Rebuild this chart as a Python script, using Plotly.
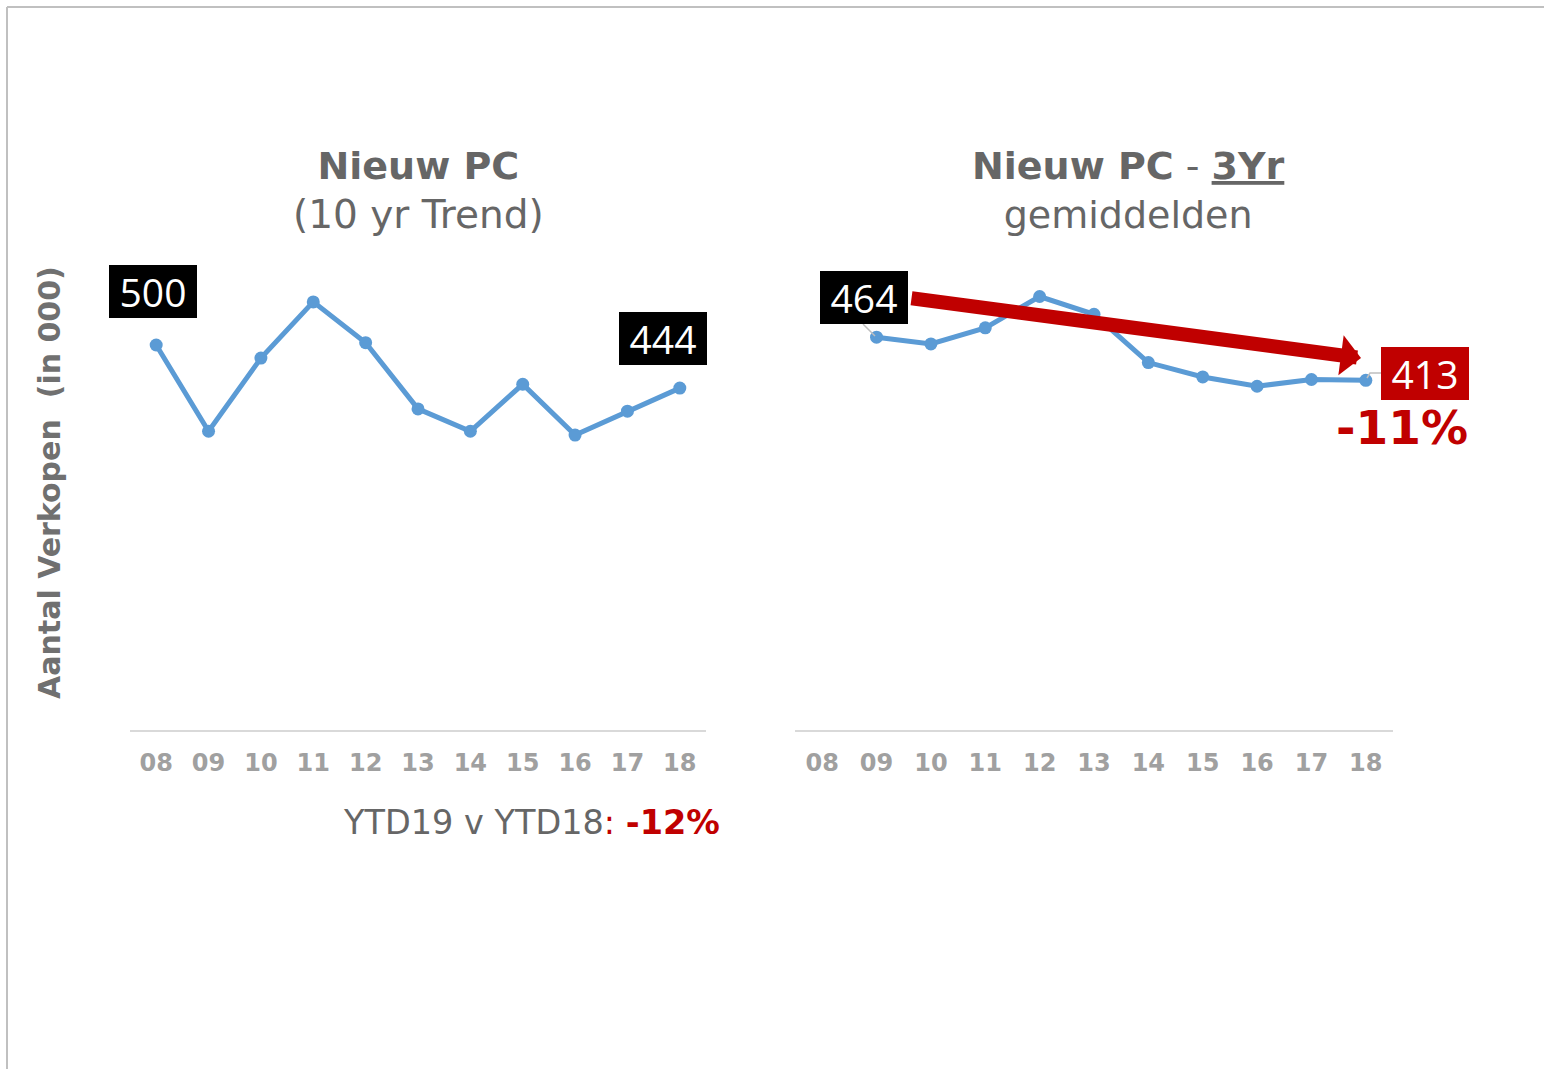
import plotly.graph_objects as go

# ---------------- data ----------------
years = ["08", "09", "10", "11", "12", "13", "14", "15", "16", "17", "18"]
sales = [500, 388, 483, 556, 503, 417, 388, 449, 383, 414, 444]
avg3 = [None, 464, 456, 475, 512, 491, 434, 417, 406, 414, 413]
first_label = "500"
last_label = "444"
avg_first_label = "464"
avg_last_label = "413"
avg_change = "-11%"
ytd_change = "-12%"

W, H = 1544, 1069
def X(px):
    return px / W
def Y(py):
    return 1 - py / H

BLUE = "#5b9bd5"
RED = "#c00000"
GREY_T = "#666666"
TICK = "#a0a0a0"
FONT = "DejaVu Sans"

fig = go.Figure()
fig.add_trace(go.Scatter(x=years, y=sales, mode="lines+markers",
                         line=dict(color=BLUE, width=5),
                         marker=dict(color=BLUE, size=13),
                         xaxis="x", yaxis="y", showlegend=False, hoverinfo="skip"))
fig.add_trace(go.Scatter(x=years, y=avg3, mode="lines+markers",
                         line=dict(color=BLUE, width=5),
                         marker=dict(color=BLUE, size=13),
                         xaxis="x2", yaxis="y2", showlegend=False, hoverinfo="skip",
                         connectgaps=False))

xcommon = dict(type="category", categoryorder="array", categoryarray=years,
               range=[-0.5, 10.5], showline=True, linecolor="#d9d9d9", linewidth=2,
               showgrid=False, zeroline=False, ticks="", ticklabelstandoff=10,
               tickfont=dict(family=FONT, size=24, color=TICK, weight="bold"),
               fixedrange=True)
ycommon = dict(range=[0, 600], visible=False, showgrid=False, zeroline=False, fixedrange=True)

fig.update_layout(
    width=W, height=H,
    margin=dict(l=0, r=0, t=0, b=0),
    paper_bgcolor="white", plot_bgcolor="white",
    font=dict(family=FONT, color=GREY_T),
    xaxis=dict(domain=[X(130), X(706)], anchor="y", **xcommon),
    yaxis=dict(domain=[Y(730), Y(268)], anchor="x", **ycommon),
    xaxis2=dict(domain=[X(795), X(1393)], anchor="y2", **xcommon),
    yaxis2=dict(domain=[Y(730), Y(222)], anchor="x2", **ycommon),
)

# frame lines
fig.add_shape(type="line", xref="paper", yref="paper", x0=X(7), x1=1.0, y0=Y(7), y1=Y(7),
              line=dict(color="#c0c0c0", width=2))
fig.add_shape(type="line", xref="paper", yref="paper", x0=X(7), x1=X(7), y0=Y(7), y1=0,
              line=dict(color="#c0c0c0", width=2))

# leader lines
fig.add_shape(type="line", xref="paper", yref="paper", x0=X(863), y0=Y(324), x1=X(875), y1=Y(336),
              line=dict(color="#bfbfbf", width=1.5))
fig.add_shape(type="path", xref="paper", yref="paper",
              path=f"M {X(1367)} {Y(378)} L {X(1370)} {Y(373)} L {X(1381)} {Y(373)}",
              line=dict(color="#bfbfbf", width=1.5))

ann = []
def txt(cx, cy, text, size, color, **kw):
    d = dict(x=X(cx), y=Y(cy), xref="paper", yref="paper", showarrow=False,
             xanchor="center", yanchor="middle", text=text,
             font=dict(family=FONT, size=size, color=color))
    d.update(kw)
    return d

# titles
ann.append(txt(418, 190, "<b>Nieuw PC</b><br><span style='font-size:39px'>(10 yr Trend)</span>", 38, GREY_T, align="center"))
ann.append(txt(1128, 190, "<b>Nieuw PC</b> - <b><u>3Yr</u></b><br>gemiddelden", 38, GREY_T, align="center"))
# y axis title
ann.append(txt(50, 483, "<b>Aantal Verkopen&nbsp; (in 000)</b>", 30, "#707070", textangle=-90))
# YTD
ann.append(txt(722, 822, f"YTD19 v YTD18<span style='color:{RED}'>: <b>{ytd_change}</b></span>",
               33.5, GREY_T, xanchor="right"))

def box(cx, cy, t, bg):
    return dict(x=X(cx), y=Y(cy), xref="paper", yref="paper", showarrow=False,
                xanchor="center", yanchor="middle",
                text=t, bgcolor=bg, width=80, height=45, borderpad=4, borderwidth=0,
                font=dict(family="Open Sans", size=39, color="white"))

ann.append(box(153, 291.5, first_label, "black"))
ann.append(box(663, 338, last_label, "black"))
ann.append(box(864, 297.5, avg_first_label, "black"))
ann.append(box(1425, 373, avg_last_label, RED))

# arrow (tail given as pixel offset from the head)
ann.append(dict(x=X(1361), y=Y(358), ax=910 - 1361, ay=298 - 358,
                xref="paper", yref="paper", axref="pixel", ayref="pixel",
                text="", showarrow=True, arrowhead=1, arrowsize=0.48, arrowwidth=14,
                arrowcolor=RED, standoff=0))
# percent change
ann.append(txt(1402, 427, f"<b>{avg_change}</b>", 47, RED))

fig.update_layout(annotations=ann)

fig.write_html("out.html", config={"displayModeBar": False},
               post_script="document.body.style.margin='0';document.body.style.overflow='hidden';")
